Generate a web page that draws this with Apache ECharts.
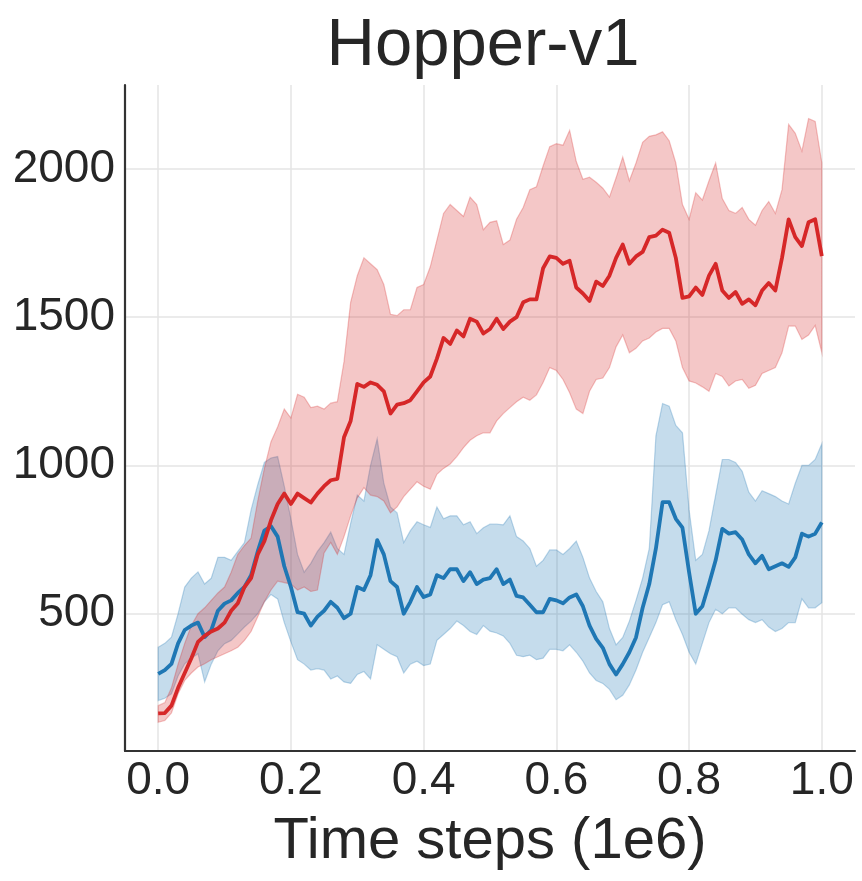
<!DOCTYPE html>
<html><head><meta charset="utf-8">
<script src="https://cdn.jsdelivr.net/npm/echarts@6/dist/echarts.min.js"></script>
<style>html,body{margin:0;padding:0;background:#fff}#c{width:862px;height:881px}</style>
</head><body><div id="c"></div>
<script>
const titleText = 'Hopper-v1';
const xName = 'Time steps (1e6)';
const xTicks = [0, 0.2, 0.4, 0.6, 0.8, 1.0];
const yTicks = [500, 1000, 1500, 2000];
const xs = [0,0.01,0.02,0.03,0.04,0.05,0.06,0.07,0.08,0.09,0.1,0.11,0.12,0.13,0.14,0.15,0.16,0.17,0.18,0.19,0.2,0.21,0.22,0.23,0.24,0.25,0.26,0.27,0.28,0.29,0.3,0.31,0.32,0.33,0.34,0.35,0.36,0.37,0.38,0.39,0.4,0.41,0.42,0.43,0.44,0.45,0.46,0.47,0.48,0.49,0.5,0.51,0.52,0.53,0.54,0.55,0.56,0.57,0.58,0.59,0.6,0.61,0.62,0.63,0.64,0.65,0.66,0.67,0.68,0.69,0.7,0.71,0.72,0.73,0.74,0.75,0.76,0.77,0.78,0.79,0.8,0.81,0.82,0.83,0.84,0.85,0.86,0.87,0.88,0.89,0.9,0.91,0.92,0.93,0.94,0.95,0.96,0.97,0.98,0.99,1.0];

const redMean = [164,165,190,250,300,350,405,425,440,450,470,510,535,590,620,700,745,815,870,905,870,905,890,875,905,930,950,955,1095,1150,1275,1265,1280,1272,1250,1175,1205,1210,1220,1250,1280,1300,1360,1430,1410,1455,1435,1495,1485,1445,1460,1495,1460,1485,1500,1550,1560,1560,1665,1705,1700,1680,1690,1600,1580,1555,1620,1605,1640,1700,1745,1680,1705,1720,1770,1775,1795,1785,1700,1565,1570,1600,1575,1640,1680,1590,1565,1585,1545,1560,1540,1590,1615,1590,1700,1830,1770,1740,1820,1830,1706];
const redHigh = [190,200,250,330,400,460,500,520,545,570,590,640,700,730,755,880,990,1080,1130,1190,1160,1240,1230,1195,1200,1190,1210,1215,1350,1550,1640,1700,1680,1660,1610,1510,1505,1525,1525,1600,1610,1670,1760,1850,1880,1860,1840,1905,1880,1795,1820,1825,1745,1760,1830,1870,1930,1940,2010,2075,2085,2080,2130,2025,1965,1972,1955,1935,1905,1970,2040,1960,2020,2090,2110,2115,2125,2095,2020,1880,1830,1920,1895,1960,2020,1900,1860,1850,1870,1830,1810,1860,1890,1850,1930,2150,2120,2060,2170,2160,2020];
const redLow = [134,140,165,230,275,300,320,331,345,355,365,375,387,410,440,490,540,580,610,605,600,580,590,575,580,705,740,700,760,830,890,925,900,895,880,840,860,895,920,945,930,920,970,990,1005,1030,1060,1085,1100,1110,1110,1150,1175,1195,1215,1230,1220,1238,1280,1330,1320,1290,1245,1190,1175,1250,1290,1295,1330,1400,1440,1380,1395,1420,1430,1450,1462,1462,1420,1330,1285,1278,1265,1250,1310,1300,1268,1285,1290,1260,1270,1310,1320,1330,1380,1470,1470,1425,1440,1472,1381];

const blueMean = [297,310,331,400,445,460,470,421,445,510,534,545,570,590,630,710,780,795,760,660,590,505,500,460,490,510,540,520,485,500,590,580,630,748,700,610,590,500,540,590,556,565,630,620,650,650,610,640,600,615,620,650,600,615,560,555,530,505,505,550,545,535,555,565,525,460,415,385,330,295,330,370,420,520,600,720,876,876,820,790,640,500,525,600,680,786,770,775,750,700,670,695,650,660,670,658,690,770,760,770,808];
const blueHigh = [387,400,421,500,590,620,641,600,620,690,690,680,710,740,850,935,1010,1025,1030,930,820,700,640,670,710,740,775,720,700,805,900,880,1000,1090,940,860,840,740,780,810,800,791,860,820,830,830,800,810,770,790,802,802,800,830,760,745,720,660,680,715,715,700,720,745,690,620,575,540,450,395,420,475,545,620,720,1100,1209,1200,1135,1110,850,680,700,780,900,1020,1020,1010,980,910,880,915,905,895,880,870,940,1000,1000,1020,1073];
const blueLow = [207,215,230,290,331,350,365,270,330,375,399,410,432,455,475,500,540,565,550,470,405,345,330,310,315,310,280,290,270,265,295,305,280,395,380,365,355,300,330,340,325,330,410,430,450,475,460,440,430,460,441,435,425,400,360,355,360,345,350,380,380,375,395,370,340,300,275,265,245,210,225,260,310,370,420,470,530,540,480,430,370,330,400,470,515,500,520,520,498,480,470,480,455,440,450,470,470,550,520,520,537];

const RED = '#d62728', BLUE = '#1f77b4';
const FONT = 'Liberation Sans, Arial, Helvetica, sans-serif';
const TXT = '#262626';

const pts = (ys) => xs.map((x, i) => [x, ys[i]]);

function bandSeries(name, lo, hi, fill, stroke) {
  return {
    name: name, type: 'custom', silent: true,
    data: xs.map((x, i) => [x, lo[i], hi[i]]),
    encode: {x: 0, y: [1, 2]},
    renderItem: function (params, api) {
      if (params.dataIndex !== 0) return null;
      const top = xs.map((x, i) => api.coord([x, hi[i]]));
      const bot = xs.map((x, i) => api.coord([x, lo[i]])).reverse();
      return {
        type: 'polygon',
        shape: {points: top.concat(bot)},
        style: {fill: fill, stroke: stroke, lineWidth: 1.2}
      };
    }
  };
}

const chart = echarts.init(document.getElementById('c'), null, {renderer: 'canvas'});
chart.setOption({
  animation: false,
  backgroundColor: '#fff',
  grid: {left: 125, right: 7, top: 85, bottom: 130, containLabel: false},
  graphic: [{
    type: 'text', x: 483, y: 47,
    style: {text: titleText, fontSize: 67, fontFamily: FONT, fill: TXT, align: 'center', verticalAlign: 'middle'}
  }],
  xAxis: {
    type: 'value', min: -0.05, max: 1.05,
    axisLine: {show: true, onZero: false, lineStyle: {color: '#333', width: 2.2}},
    axisTick: {show: false, customValues: xTicks},
    axisLabel: {customValues: xTicks, formatter: v => v.toFixed(1), fontSize: 46, color: TXT, fontFamily: FONT, margin: 7},
    splitLine: {show: true, lineStyle: {color: '#e5e5e5', width: 1.5}},
    name: xName, nameLocation: 'middle', nameGap: 62,
    nameTextStyle: {fontSize: 58, color: TXT, fontFamily: FONT}
  },
  yAxis: {
    type: 'value', min: 37, max: 2283,
    axisLine: {show: true, onZero: false, lineStyle: {color: '#333', width: 2.2}},
    axisTick: {show: false, customValues: yTicks},
    axisLabel: {customValues: yTicks, formatter: v => String(v), fontSize: 46, color: TXT, fontFamily: FONT, margin: 10},
    splitLine: {show: true, lineStyle: {color: '#e5e5e5', width: 1.5}}
  },
  series: [
    bandSeries('blueBand', blueLow, blueHigh, 'rgba(31,119,180,0.26)', 'rgba(31,119,180,0.28)'),
    bandSeries('redBand', redLow, redHigh, 'rgba(214,39,40,0.26)', 'rgba(214,39,40,0.28)'),
    {name: 'blueMean', type: 'line', data: pts(blueMean), symbol: 'none', lineStyle: {width: 3.8, color: BLUE, join: 'round'}},
    {name: 'redMean', type: 'line', data: pts(redMean), symbol: 'none', lineStyle: {width: 3.8, color: RED, join: 'round'}}
  ]
});
</script>
</body></html>
